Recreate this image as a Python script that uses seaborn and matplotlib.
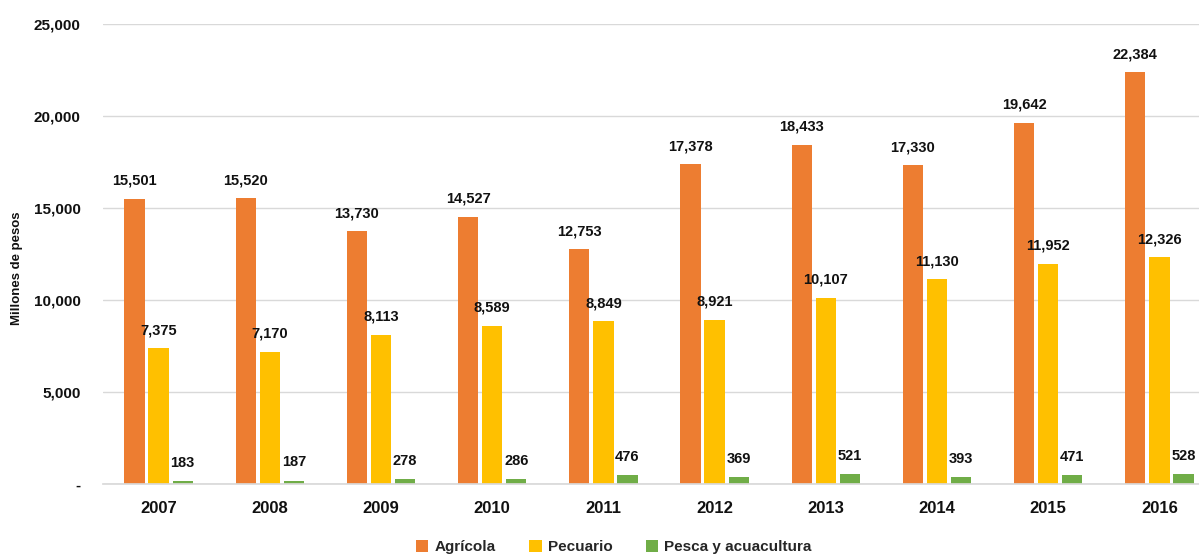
import matplotlib
matplotlib.use("Agg")
import matplotlib.pyplot as plt
import seaborn as sns
import pandas as pd
from matplotlib.ticker import FuncFormatter

years = ["2007", "2008", "2009", "2010", "2011", "2012", "2013", "2014", "2015", "2016"]
agricola = [15501, 15520, 13730, 14527, 12753, 17378, 18433, 17330, 19642, 22384]
pecuario = [7375, 7170, 8113, 8589, 8849, 8921, 10107, 11130, 11952, 12326]
pesca = [183, 187, 278, 286, 476, 369, 521, 393, 471, 528]
series = ["Agrícola", "Pecuario", "Pesca y acuacultura"]
colors = ["#ED7D31", "#FFC000", "#70AD47"]

rows = []
for name, vals in zip(series, [agricola, pecuario, pesca]):
    for y, v in zip(years, vals):
        rows.append({"Año": y, "Subsector": name, "Valor": v})
df = pd.DataFrame(rows)

sns.set_theme(style="white")
plt.rcParams["font.family"] = "Liberation Sans"

fig = plt.figure(figsize=(11.99, 5.57), dpi=100)
ax = fig.add_axes([103 / 1199, 1 - 484 / 557, 1112 / 1199, 460 / 557])

sns.barplot(data=df, x="Año", y="Valor", hue="Subsector", palette=colors,
            width=0.65, gap=0.16, ax=ax, legend=True, saturation=1, linewidth=0)

ax.set_ylim(0, 25000)
ax.set_yticks(range(0, 25001, 5000))
ax.yaxis.set_major_formatter(FuncFormatter(lambda v, p: "-" if v == 0 else f"{int(v):,}"))
ax.grid(axis="y", color="#D9D9D9", linewidth=1)
ax.set_axisbelow(True)
for s in ["top", "right", "left"]:
    ax.spines[s].set_visible(False)
ax.spines["bottom"].set_color("#D9D9D9")
ax.tick_params(axis="both", length=0)
ax.tick_params(axis="y", pad=16)
ax.tick_params(axis="x", pad=12)
for lab in ax.get_yticklabels():
    lab.set_fontweight("bold")
    lab.set_fontsize(11)
    lab.set_color("#111111")
for lab in ax.get_xticklabels():
    lab.set_fontweight("bold")
    lab.set_fontsize(12)
    lab.set_color("#111111")
ax.set_xlabel("")
ax.set_ylabel("Millones de pesos", fontweight="bold", fontsize=9.5, labelpad=8, color="#111111")
ax.yaxis.set_label_coords(-0.072, 0.47)

for cont in ax.containers:
    ax.bar_label(cont, labels=[f"{int(v):,}" for v in cont.datavalues],
                 padding=8, fontsize=10.5, fontweight="bold", color="#111111")

handles, labels = ax.get_legend_handles_labels()
ax.get_legend().remove()
leg = fig.legend(handles, labels, loc="center", bbox_to_anchor=(614 / 1199, 1 - 547 / 557),
                 ncol=3, frameon=False, prop={"weight": "bold", "size": 11},
                 handlelength=0.8, handleheight=0.8, handletextpad=0.4, columnspacing=2.2)

fig.savefig("out.png", dpi=100)
